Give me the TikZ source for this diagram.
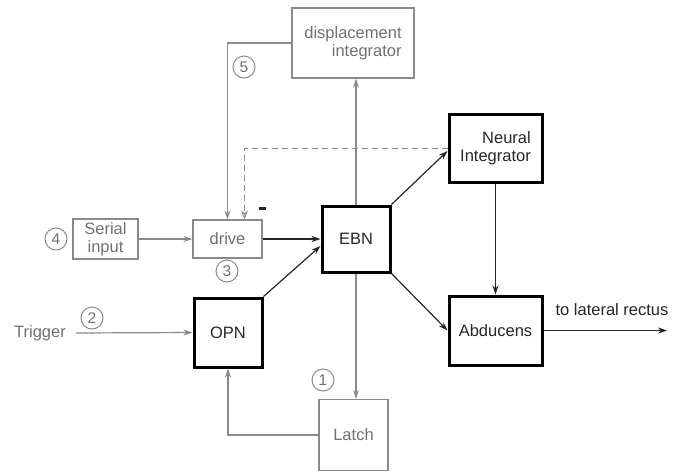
\documentclass[tikz,border=0pt]{standalone}
\usepackage{fontspec}
\setmainfont{Liberation Sans}
\usetikzlibrary{arrows.meta}
\definecolor{gline}{HTML}{8A8A8A}
\definecolor{gtext}{HTML}{707070}
\begin{document}
\begin{tikzpicture}[x=1pt,y=-1pt,
  every node/.style={font=\fontsize{16.5}{17.5}\selectfont, inner sep=0pt},
  graybox/.style={draw=gline, line width=1.3pt, text=gtext, align=center},
  blackbox/.style={draw=black, line width=3pt, text=black!85, align=center},
  garrow/.style={draw=gline, line width=1.2pt, -{Stealth[length=9pt,width=6pt]}},
  barrow/.style={draw=black!85, line width=1.2pt, -{Stealth[length=9pt,width=6pt]}},
  num/.style={circle, draw=gline, line width=1pt, minimum size=22pt, text=gtext, font=\fontsize{15.5}{15.5}\selectfont}
]
\useasboundingbox (0,0) rectangle (675,472);

\node[graybox, minimum width=122pt, minimum height=70pt, align=right] (disp) at (353,43) {displacement\\integrator};
\node[graybox, minimum width=69pt, minimum height=38pt] (drive) at (227.5,239) {drive};
\node[graybox, minimum width=65pt, minimum height=40pt] (serial) at (105.5,239) {Serial\\input};
\node[blackbox, minimum width=68pt, minimum height=66pt] (ebn) at (356,239) {EBN};
\node[blackbox, minimum width=68pt, minimum height=69pt] (opn) at (228,332.5) {OPN};
\node[graybox, minimum width=69pt, minimum height=71pt] (latch) at (353.5,435) {Latch};
\node[blackbox, minimum width=93pt, minimum height=68pt, align=right] (ni) at (495.5,148) {Neural\\Integrator};
\node[blackbox, minimum width=93pt, minimum height=69pt] (abd) at (495.5,330.5) {Abducens};
\node[text=gtext] (trig) at (40,333) {Trigger};
\coordinate (out) at (667,330.5);
\node[text=black!85] (outlab) at (612,310) {to lateral rectus};

\node[num] (n1) at (323,380) {1};
\node[num] (n2) at (92,318) {2};
\node[num] (n3) at (227,271) {3};
\node[num] (n4) at (56,239) {4};
\node[num] (n5) at (244,67) {5};
\node[fill=black!85, minimum width=7pt, minimum height=3pt] (minus) at (262,208) {};

\coordinate (dtop) at ([xshift=17pt]drive.north);
\draw[garrow] (disp.west) -| (drive.north);
\draw[draw=gline, line width=1pt, dashed, dash pattern=on 6pt off 4pt, -{Stealth[open,length=9pt,width=7pt]}] (ni.west) -| (dtop);
\draw[garrow] (ebn.north) -- (ebn.north |- disp.south);
\draw[garrow] (ebn.south) -- (ebn.south |- latch.north);
\draw[garrow] (latch.west) -| (opn.south);
\draw[garrow] (trig.east) ++(10,0) -- (opn.west);
\draw[garrow] (serial.east) -- (drive.west);
\draw[barrow] (drive.east) -- (ebn.west);
\draw[barrow] (opn.north east) -- ([yshift=-7pt]ebn.west);
\draw[barrow] (ebn.north east) -- ([yshift=-3pt]ni.west);
\draw[barrow] (ebn.south east) -- (abd.west);
\draw[barrow] (ni.south) -- (abd.north);
\draw[barrow] (abd.east) -- (out);
\end{tikzpicture}
\end{document}
